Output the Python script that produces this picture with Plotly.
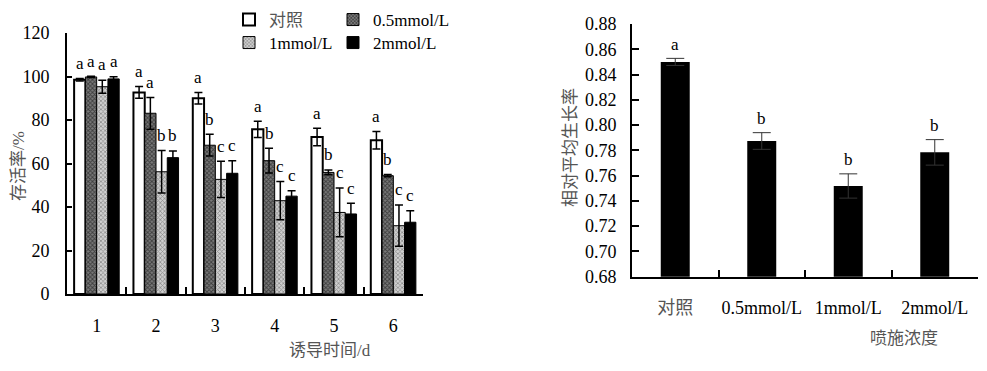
import plotly.graph_objects as go

# ---------------- data ----------------
days = ["1", "2", "3", "4", "5", "6"]
series_names = ["对照", "0.5mmol/L", "1mmol/L", "2mmol/L"]
surv_ck = [98.5, 92.7, 90.0, 75.7, 72.2, 70.7]
surv_05 = [99.8, 83.1, 68.4, 61.3, 55.9, 54.4]
surv_1 = [95.3, 56.2, 52.7, 42.9, 37.5, 31.4]
surv_2 = [98.9, 62.7, 55.5, 45.0, 36.8, 33.0]
err_ck = [0.6, 2.7, 2.7, 3.7, 4.0, 4.0]
err_05 = [0.3, 7.3, 5.0, 5.7, 1.1, 0.5]
err_1 = [3.0, 9.8, 8.3, 8.8, 11.2, 9.5]
err_2 = [1.0, 3.0, 5.8, 2.5, 4.9, 5.3]
let_ck = ["a", "a", "a", "a", "a", "a"]
let_05 = ["a", "a", "b", "b", "b", "b"]
let_1 = ["a", "b", "c", "c", "c", "c"]
let_2 = ["a", "b", "c", "c", "c", "c"]

conc = ["对照", "0.5mmol/L", "1mmol/L", "2mmol/L"]
growth = [0.850, 0.7874, 0.7518, 0.7784]
growth_err = [0.0028, 0.0066, 0.0096, 0.0101]
growth_let = ["a", "b", "b", "b"]

SERIF = "Liberation Serif, Noto Sans CJK SC"
GRAY = "#555555"

# page has an 8px body margin; work in screen pixels and convert
W, H = 971, 355
OFF = 8


def fx(px):
    return (px - OFF) / W


def fy(py):
    return 1 - (py - OFF) / H


left_vals = [surv_ck, surv_05, surv_1, surv_2]
left_errs = [err_ck, err_05, err_1, err_2]
left_lets = [let_ck, let_05, let_1, let_2]

styles = [
    dict(color="white", line=dict(color="black", width=2)),
    dict(color="#555555", line=dict(color="black", width=1),
         pattern=dict(shape="x", fgcolor="black", bgcolor="#7a7a7a", size=3, solidity=0.5)),
    dict(color="#aaaaaa", line=dict(color="black", width=1),
         pattern=dict(shape="x", fgcolor="#4a4a4a", bgcolor="#cfcfcf", size=3, solidity=0.45)),
    dict(color="black", line=dict(color="black", width=1)),
]
legend_names = ['<span style="color:#555">对照</span>', "0.5mmol/L", "1mmol/L", "2mmol/L"]
legend_ids = ["legend", "legend2", "legend3", "legend4"]
legend_pos = [(229, 20), (333, 20), (229, 43), (333, 43)]

BARGAP = 0.24
n = len(series_names)
bw = (1 - BARGAP) / n

fig = go.Figure()
for k in range(n):
    fig.add_trace(go.Bar(
        x=days, y=left_vals[k], name=legend_names[k], marker=styles[k],
        error_y=dict(type="data", array=left_errs[k], symmetric=True,
                     color="black", thickness=1.5, width=4),
        xaxis="x", yaxis="y", legend=legend_ids[k], showlegend=True,
    ))

fig.add_trace(go.Bar(
    x=conc, y=growth, width=0.335, marker=dict(color="black", line=dict(width=0)),
    error_y=dict(type="data", array=growth_err, color="#333333", thickness=1, width=9),
    xaxis="x2", yaxis="y2", showlegend=False,
))

annotations = []
# significance letters, left chart
for k in range(n):
    off = -(1 - BARGAP) / 2 + (k + 0.5) * bw
    for i in range(len(days)):
        annotations.append(dict(
            x=i + off, y=left_vals[k][i] + left_errs[k][i] + 7, xref="x", yref="y",
            text=left_lets[k][i], showarrow=False, xanchor="center",
            font=dict(family=SERIF, size=17, color="black"), yanchor="middle"))
# significance letters, right chart
for i in range(len(conc)):
    annotations.append(dict(
        x=i, y=growth[i] + growth_err[i] + 0.011, xref="x2", yref="y2",
        text=growth_let[i], showarrow=False, xanchor="center",
        font=dict(family=SERIF, size=17, color="black"), yanchor="middle"))

title_font = dict(family=SERIF, size=17, color=GRAY)
for txt, px, py, ang in [("存活率/%", 18, 166, -90), ("诱导时间/d", 330, 350, 0),
                         ("相对平均生长率", 571, 148, -90), ("喷施浓度", 904, 338, 0)]:
    annotations.append(dict(text=txt, x=fx(px), y=fy(py), xref="paper", yref="paper",
                            xanchor="center", yanchor="middle", textangle=ang,
                            showarrow=False, font=title_font))

axis_common = dict(showline=True, linewidth=2, linecolor="black", showgrid=False,
                   zeroline=False, ticks="inside", tickwidth=2, tickcolor="black",
                   automargin=False, tickangle=0,
                   tickfont=dict(family=SERIF, size=18, color="black"))

legends = {}
for k, lid in enumerate(legend_ids):
    px, py = legend_pos[k]
    legends[lid] = dict(orientation="h", x=fx(px), y=fy(py), xanchor="left",
                        yanchor="middle", bgcolor="rgba(0,0,0,0)",
                        font=dict(family=SERIF, size=17, color="black"))

fig.update_layout(
    width=W, height=H, margin=dict(l=0, r=0, t=0, b=0, autoexpand=False),
    paper_bgcolor="white", plot_bgcolor="white",
    barmode="group", bargap=BARGAP, bargroupgap=0,
    xaxis=dict(domain=[fx(67), fx(423)], anchor="y", type="category",
               range=[-0.5, 5.5], tickson="boundaries", ticklen=7,
               ticklabelstandoff=14, **axis_common),
    yaxis=dict(domain=[fy(294), fy(33)], anchor="x", range=[0, 120],
               dtick=20, ticklen=5, ticklabelstandoff=12, **axis_common),
    xaxis2=dict(domain=[fx(632), fx(978)], anchor="y2", type="category",
                range=[-0.5, 3.5], tickson="boundaries", ticklen=7,
                ticklabelstandoff=14,
                tickvals=conc,
                ticktext=['<span style="color:#555">对照</span>', "0.5mmol/L", "1mmol/L", "2mmol/L"],
                **axis_common),
    yaxis2=dict(domain=[fy(276.7), fy(24)], anchor="x2", range=[0.68, 0.88],
                dtick=0.02, tickformat=".2f", ticklen=7, ticklabelstandoff=10,
                **axis_common),
    annotations=annotations,
    **legends,
)

fig.write_html("out.html")
